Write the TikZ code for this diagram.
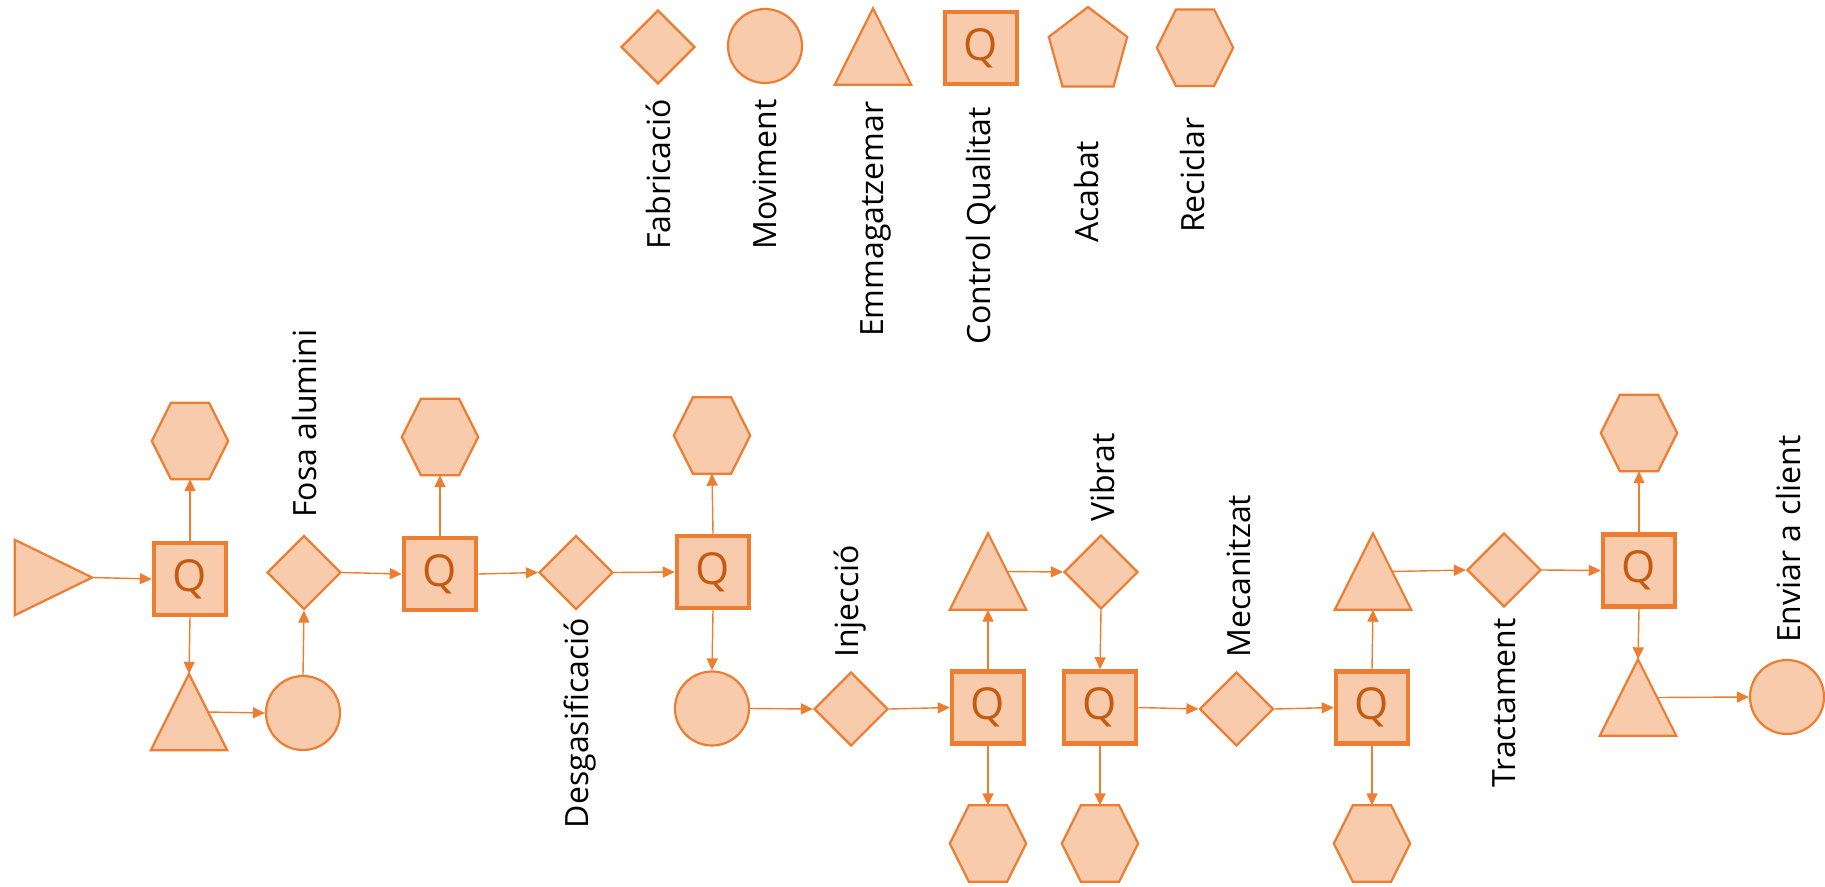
\documentclass[tikz,border=0pt]{standalone}
\usepackage{fontspec}
\setmainfont{Open Sans}
\usetikzlibrary{arrows.meta,shapes.geometric,calc}

\definecolor{ostroke}{HTML}{ED7D31}
\definecolor{ofill}{HTML}{F8CBAD}
\definecolor{oq}{HTML}{C55A11}

\tikzset{
  shp/.style={draw=ostroke, fill=ofill, line width=2.2pt},
  qbox/.style={shp, rectangle, line width=4.5pt, minimum size=72pt, inner sep=0pt,
    text=oq, font=\fontsize{44}{44}\selectfont},
  dia/.style={shp, diamond, minimum width=74pt, minimum height=74pt, inner sep=0pt},
  circ/.style={shp, circle, minimum size=74pt, inner sep=0pt},
  slot/.style={rectangle, inner sep=0pt, minimum width=76pt, minimum height=76pt},
  lbl/.style={rotate=90, inner sep=0pt, font=\fontsize{32}{38}\selectfont},
  conn/.style={draw=ostroke, line width=1.4pt, -{Triangle[length=12pt,width=11pt]}},
}

% outlines drawn inside an invisible slot node
\newcommand\triup[1]{\path[shp] (#1.north) -- (#1.south east) -- (#1.south west) -- cycle;}
\newcommand\triright[1]{\path[shp] (#1.east) -- (#1.north west) -- (#1.south west) -- cycle;}
\newcommand\hexa[1]{\path[shp] (#1.west)
  -- ($(#1.north west)!0.25!(#1.north east)$) -- ($(#1.north west)!0.75!(#1.north east)$)
  -- (#1.east)
  -- ($(#1.south west)!0.75!(#1.south east)$) -- ($(#1.south west)!0.25!(#1.south east)$)
  -- cycle;}
\newcommand\penta[1]{\path[shp] (#1.north)
  -- ($(#1.north east)!0.376!(#1.south east)$)
  -- ($(#1.south west)!0.826!(#1.south east)$)
  -- ($(#1.south west)!0.174!(#1.south east)$)
  -- ($(#1.north west)!0.376!(#1.south west)$) -- cycle;}
% point on the right flank of an upward triangle, at mid height
\newcommand\flank[1]{($(#1.north)!0.5!(#1.south east)$)}

\begin{document}
\begin{tikzpicture}[x=1pt,y=-1pt]
\useasboundingbox (0,0) rectangle (1825,886);

% ---------- legend ----------
\node[dia] (ld) at (658,47) {};
\node[circ] (lc) at (765,46) {};
\node[slot] (lt) at (873,46.5) {}; \triup{lt}
\node[qbox] (lq) at (981,48) {Q};
\node[slot, minimum width=78pt, minimum height=79pt] (lp) at (1088,46.7) {}; \penta{lp}
\node[slot] (lh) at (1195,47.7) {}; \hexa{lh}

\node[lbl, anchor=base west] (tld) at (670,250) {Fabricació};
\node[lbl, anchor=base west] (tlc) at (776,250) {Moviment};
\node[lbl, anchor=base west] (tlt) at (883,337) {Emmagatzemar};
\node[lbl, anchor=base west] (tlq) at (990,345) {Control Qualitat};
\node[lbl, anchor=base west] (tlp) at (1098,243) {Acabat};
\node[lbl, anchor=base west] (tlh) at (1204,233) {Reciclar};

% ---------- process chain ----------
\node[slot, minimum width=77pt, minimum height=75pt] (s0) at (53.5,577.5) {}; \triright{s0}
\node[qbox] (q1) at (190,579) {Q};
\node[slot] (h1) at (190,441) {}; \hexa{h1}
\node[slot] (t1) at (189,712) {}; \triup{t1}
\node[circ] (c1) at (303,713) {};
\node[dia] (d1) at (304,572.5) {};
\node[qbox] (q2) at (440,574) {Q};
\node[slot] (h2) at (440,437) {}; \hexa{h2}
\node[dia] (d2) at (576,572.5) {};
\node[qbox] (q3) at (713,572) {Q};
\node[slot] (h3) at (712,435.5) {}; \hexa{h3}
\node[circ] (c2) at (712,708.5) {};
\node[dia] (d3) at (851,709) {};
\node[qbox] (q4) at (988,707.5) {Q};
\node[slot] (t2) at (988,571.5) {}; \triup{t2}
\node[slot] (h4) at (988,843.5) {}; \hexa{h4}
\node[dia] (d4) at (1101,572) {};
\node[qbox] (q5) at (1100,707.5) {Q};
\node[slot] (h5) at (1100,843.5) {}; \hexa{h5}
\node[dia] (d5) at (1236.5,709) {};
\node[qbox] (q6) at (1372,707.5) {Q};
\node[slot] (t3) at (1373,571.5) {}; \triup{t3}
\node[slot] (h6) at (1372,843.5) {}; \hexa{h6}
\node[dia] (d6) at (1504,570) {};
\node[qbox] (q7) at (1639,570.5) {Q};
\node[slot] (h7) at (1639,433) {}; \hexa{h7}
\node[slot] (t4) at (1638,697.5) {}; \triup{t4}
\node[circ] (c3) at (1787,697) {};

% step labels
\node[lbl, anchor=base west] (ld1) at (316,518) {Fosa alumini};
\node[lbl, anchor=base east] (ld2) at (588,618) {Desgasificació};
\node[lbl, anchor=base west] (ld3) at (858,658) {Injecció};
\node[lbl, anchor=base west] (ld4) at (1114,522) {Vibrat};
\node[lbl, anchor=base west] (ld5) at (1250,658) {Mecanitzat};
\node[lbl, anchor=base east] (ld6) at (1515,618) {Tractament};
\node[lbl, anchor=base west] (lc3) at (1800,643) {Enviar a client};

% ---------- connectors ----------
\draw[conn] (s0.east) -- (q1.west);
\draw[conn] (q1.north) -- (h1.south);
\draw[conn] (q1.south) -- (t1.north);
\draw[conn] \flank{t1} -- (c1.west);
\draw[conn] (c1.north) -- (d1.south);
\draw[conn] (d1.east) -- (q2.west);
\draw[conn] (q2.north) -- (h2.south);
\draw[conn] (q2.east) -- (d2.west);
\draw[conn] (d2.east) -- (q3.west);
\draw[conn] (q3.north) -- (h3.south);
\draw[conn] (q3.south) -- (c2.north);
\draw[conn] (c2.east) -- (d3.west);
\draw[conn] (d3.east) -- (q4.west);
\draw[conn] (q4.north) -- (t2.south);
\draw[conn] \flank{t2} -- (d4.west);
\draw[conn] (d4.south) -- (q5.north);
\draw[conn] (q4.south) -- (h4.north);
\draw[conn] (q5.south) -- (h5.north);
\draw[conn] (q5.east) -- (d5.west);
\draw[conn] (d5.east) -- (q6.west);
\draw[conn] (q6.north) -- (t3.south);
\draw[conn] (q6.south) -- (h6.north);
\draw[conn] \flank{t3} -- (d6.west);
\draw[conn] (d6.east) -- (q7.west);
\draw[conn] (q7.north) -- (h7.south);
\draw[conn] (q7.south) -- (t4.north);
\draw[conn] \flank{t4} -- (c3.west);
\end{tikzpicture}
\end{document}
